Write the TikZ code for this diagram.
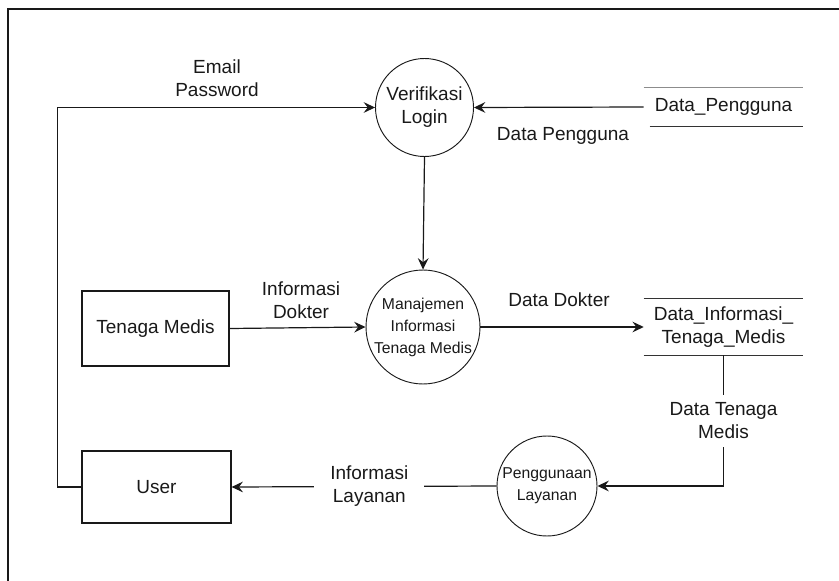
\documentclass[tikz,border=0pt]{standalone}
\usepackage{fontspec}
\setmainfont{Liberation Sans}
\usetikzlibrary{arrows.meta}
\begin{document}
\begin{tikzpicture}[x=0.75pt,y=-0.75pt,
  every node/.style={font=\fontsize{14.25pt}{17.25pt}\selectfont, text=black!90},
  flow/.style={draw=black!90, line width=0.9pt,
    -{Stealth[length=8.5pt,width=8pt,inset=3pt]}},
  process/.style={circle, draw=black!90, line width=0.7pt, inner sep=0pt, align=center},
  smalltext/.style={font=\fontsize{11.8pt}{16.5pt}\selectfont},
  entity/.style={rectangle, draw=black!90, line width=0.9pt, inner sep=0pt, align=center},
  store/.style={inner sep=0pt, align=center, minimum width=119.25pt},
  lbl/.style={align=center, fill=white, inner xsep=12pt, inner ysep=6pt}]
\useasboundingbox (0,0) rectangle (839,581);

% outer frame
\draw[black!90, line width=0.9pt] (8,581) -- (8,9) -- (839,9);

% processes
\node[process, minimum size=73.5pt] (verif) at (424.5,107.5) {Verifikasi\\Login};
\node[process, smalltext, minimum size=82.5pt] (manaj) at (423,327) {Manajemen\\Informasi\\Tenaga Medis};
\node[process, smalltext, minimum size=75pt] (pengg) at (547,486) {Penggunaan\\Layanan};

% external entities
\node[entity, minimum width=110.25pt, minimum height=56.25pt] (medis) at (155.5,328.5) {Tenaga Medis};
\node[entity, minimum width=111.75pt, minimum height=54pt] (user) at (156.5,487) {User};

% data stores
\node[store, minimum height=28.5pt] (ds1) at (723.5,107) {Data\_Pengguna};
\draw[black!45, line width=1.1pt] (ds1.north west) -- (ds1.north east);
\draw[black!80, line width=0.8pt] ([xshift=4.5pt]ds1.south west) -- (ds1.south east);

\node[store, minimum height=42pt] (ds2) at (723.5,327) {Data\_Informasi\_\\Tenaga\_Medis};
\draw[black!80, line width=0.9pt] (ds2.north west) -- (ds2.north east);
\draw[black!80, line width=0.9pt] (ds2.south west) -- (ds2.south east);

% data flows
\draw[flow] (user.west) -- ++(-24,0) |- (verif.west);
\node[align=center] (lblemail) at (217,78) {Email\\Password};

\draw[flow] (ds1.west) -- (verif.east);
\node (lbldp) at (563,136) {Data Pengguna};

\draw[flow] (verif.south) -- (manaj.north);

\draw[flow] (medis.east) -- (manaj.west);
\node[align=center] (lbldok) at (301,300) {Informasi\\Dokter};

\draw[flow] (manaj.east) -- (ds2.west);
\node (lbldd) at (559,300) {Data Dokter};

\draw[flow] (ds2.south) |- node[lbl, pos=0.25] {Data Tenaga\\Medis} (pengg.east);

\draw[flow] (pengg.west) -- node[lbl, pos=0.48] {Informasi\\Layanan} (user.east);
\end{tikzpicture}
\end{document}
